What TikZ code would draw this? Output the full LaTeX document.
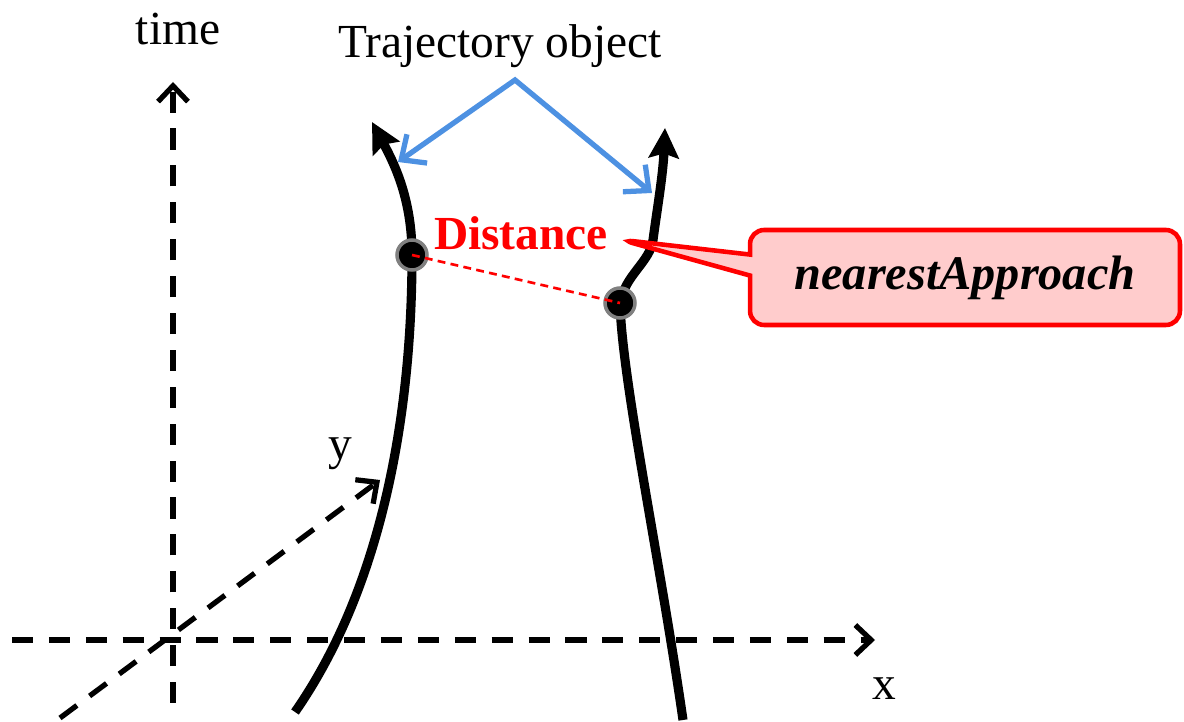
\documentclass[tikz,border=0pt]{standalone}
\usepackage{fontspec}
\setmainfont{Liberation Serif}
\usetikzlibrary{arrows.meta,shapes.callouts}

\definecolor{trajblue}{RGB}{77,145,226}
\definecolor{callpink}{RGB}{255,204,204}

\begin{document}
\begin{tikzpicture}[x=0.02cm, y=-0.02cm,
  lbl/.style={font=\fontsize{27}{30}\selectfont, inner sep=0pt, anchor=base},
  axis/.style={line width=3pt, dash pattern=on 12pt off 9pt, -{Straight Barb[length=9pt,width=17pt]}},
  traj/.style={line width=5.2pt, -{Stealth[length=17pt,width=17pt,inset=2.5pt]}},
  dot/.style={circle, fill=black, draw=gray, line width=2pt, minimum size=0.6cm, inner sep=0pt},
  pointer/.style={trajblue, line width=3pt, {Straight Barb[length=11pt,width=20pt]}-{Straight Barb[length=11pt,width=20pt]}},
  callbox/.style={rectangle callout, draw=red, fill=callpink, line width=2.6pt, rounded corners=8pt,
    minimum width=8.6cm, minimum height=1.9cm, callout pointer width=0.42cm}]
  \useasboundingbox (0,0) rectangle (1184,722);

  % Axes
  \coordinate (tbot) at (173,703);
  \coordinate (ttop) at (173,82);
  \coordinate (xl) at (12,640);
  \coordinate (xr) at (875,640);
  \coordinate (yl) at (60,718);
  \coordinate (yr) at (380,480);
  \draw[axis] (tbot) -- (ttop);
  \draw[axis] (xl) -- (xr);
  \draw[axis] (yl) -- (yr);
  \node[lbl] (tlabel) at (178,45) {time};
  \node[lbl] (xlabel) at (884,700) {x};
  \node[lbl] (ylabel) at (340,460) {y};

  % Trajectories
  \coordinate (la) at (295,712);
  \coordinate (pa) at (412,255);
  \coordinate (lt) at (372,122);
  \draw[traj] (la) .. controls (380,590) and (412,420) .. (pa)
    .. controls (412,200) and (395,165) .. (lt);
  \coordinate (rb) at (683,720);
  \coordinate (pb) at (620,303);
  \coordinate (rt) at (665,128);
  \draw[traj] (rb) .. controls (660,560) and (622,380) .. (pb)
    .. controls (625,275) and (650,262) .. (653,240)
    .. controls (657,210) and (663,175) .. (rt);

  % Nearest points and distance
  \node[dot] (dotA) at (pa) {};
  \node[dot] (dotB) at (pb) {};
  \draw[red, line width=1.5pt, dash pattern=on 4.5pt off 3pt] (dotA.center) -- (dotB.center);
  \node[lbl, text=red, font=\fontsize{27}{30}\selectfont\bfseries] (dist) at (521,250) {Distance};

  % Callout
  \coordinate (tip) at ([xshift=7pt,yshift=-3.4pt]dist.east);
  \node[callbox, callout absolute pointer={(tip)}, font=\fontsize{27.5}{30}\selectfont\bfseries\itshape]
    (nearest) at (965,277.5) {nearestApproach};

  % Trajectory object label
  \node[lbl] (trajlabel) at (500,58) {Trajectory object};
  \coordinate (apex) at (515,80);
  \coordinate (ta) at (398,162);
  \coordinate (tb) at (652,193);
  \draw[pointer] (ta) -- (apex) -- (tb);
\end{tikzpicture}
\end{document}
